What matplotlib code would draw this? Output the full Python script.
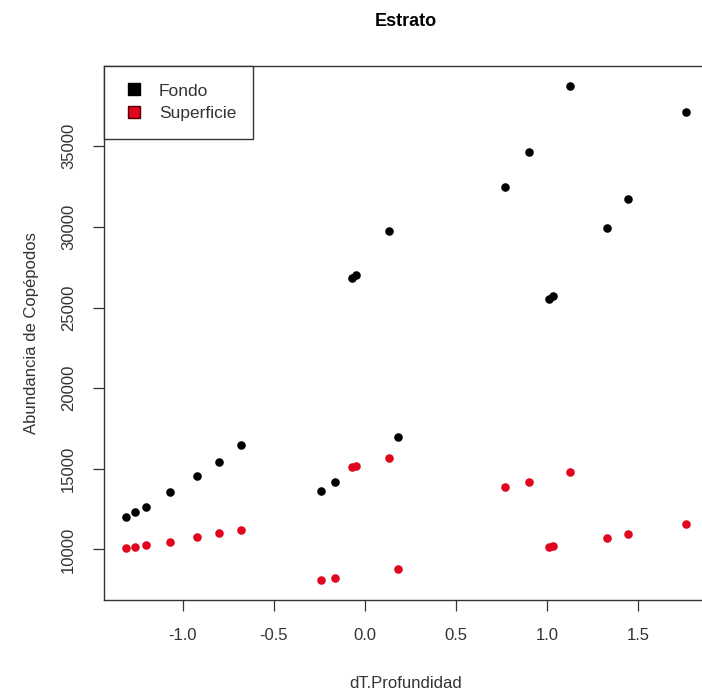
import matplotlib.pyplot as plt
from matplotlib.lines import Line2D

plt.rcParams['font.family'] = ['Liberation Sans', 'DejaVu Sans']

# datos
dT = [-1.31, -1.26, -1.20, -1.07, -0.92, -0.80, -0.68, -0.24, -0.165,
      -0.07, -0.05, 0.133, 0.182, 0.77, 0.90, 1.01, 1.03, 1.125, 1.33, 1.446, 1.761]
fondo = [12040, 12310, 12660, 13590, 14580, 15450, 16450, 13650, 14210,
         26800, 27000, 29760, 17000, 32470, 34650, 25550, 25700, 38750, 29900, 31700, 37130]
superficie = [10110, 10170, 10260, 10480, 10800, 11030, 11230, 8090, 8250,
              15130, 15150, 15660, 8790, 13900, 14210, 10150, 10200, 14830, 10710, 10940, 11580]

xticks = [-1.0, -0.5, 0.0, 0.5, 1.0, 1.5]
yticks = [10000, 15000, 20000, 25000, 30000, 35000]

rojo = '#e0061d'
gris = '#333333'

fig = plt.figure(figsize=(7.02, 6.97), dpi=100)
ax = fig.add_axes([104/702, 97/697, 604/702, 534/697])

ax.scatter(dT, fondo, s=38, color='black', zorder=3, linewidths=0)
ax.scatter(dT, superficie, s=38, color=rojo, zorder=3, linewidths=0)
ax.margins(0.04)

ax.set_xticks(xticks)
ax.set_xticklabels(['%.1f' % t for t in xticks])
ax.set_yticks(yticks)
ax.set_yticklabels([str(t) for t in yticks], rotation=90, va='center')
ax.tick_params(length=8, width=0.9, color=gris, labelsize=12, labelcolor=gris, pad=12)
for s in ax.spines.values():
    s.set_color(gris)
    s.set_linewidth(1.0)

ax.set_title('Estrato', fontsize=13, fontweight='bold', pad=29)
ax.set_xlabel('dT.Profundidad', fontsize=12, color=gris, labelpad=24)
ax.set_ylabel('Abundancia de Copépodos', fontsize=12, color=gris, labelpad=16)

handles = [Line2D([], [], marker='s', ls='', color='black', markersize=8),
           Line2D([], [], marker='s', ls='', color=rojo, markeredgecolor='#550000', markersize=8)]
leg = ax.legend(handles, ['Fondo', 'Superficie'], loc='upper left', borderaxespad=0,
                fontsize=12.5, fancybox=False, edgecolor=gris, framealpha=1,
                handlelength=1.4, handletextpad=0.75, labelspacing=0.45, borderpad=1.0)
leg.get_frame().set_linewidth(1.0)
for t in leg.get_texts():
    t.set_color(gris)

fig.savefig('out.png', dpi=100)
